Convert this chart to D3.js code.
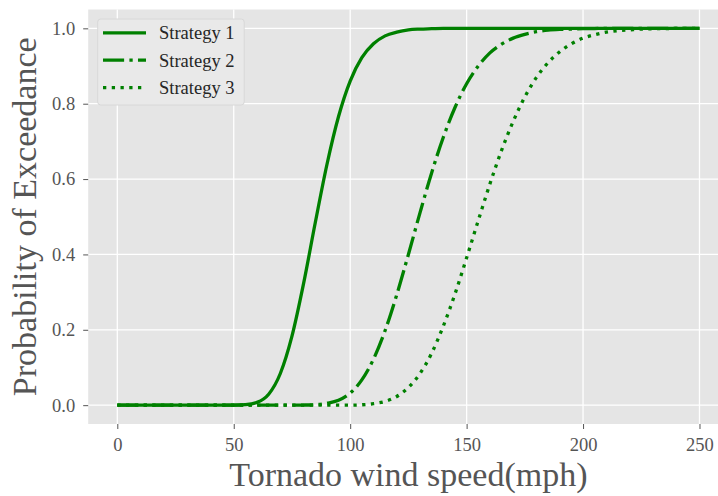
<!DOCTYPE html>
<html>
<head>
<meta charset="utf-8">
<script src="https://cdn.jsdelivr.net/npm/d3@7"></script>
<style>
  body { margin: 0; background: #fff; }
  svg { display: block; font-family: "Liberation Serif", "Times New Roman", serif; }
</style>
</head>
<body>
<script>
// wind speed samples (mph)
const windSpeed = d3.range(0, 251, 5);

// probability of exceedance
const strategy1 = [
  0, 0, 0, 0, 0, 0, 0, 0, 0, 0,
  0.0001, 0.0012, 0.0073, 0.029, 0.084, 0.183, 0.323, 0.484, 0.638, 0.766,
  0.860, 0.922, 0.959, 0.980, 0.990, 0.996, 0.998, 0.999, 1, 1,
  1, 1, 1, 1, 1, 1, 1, 1, 1, 1,
  1, 1, 1, 1, 1, 1, 1, 1, 1, 1,
  1
];
const strategy2 = [
  0, 0, 0, 0, 0, 0, 0, 0, 0, 0,
  0, 0, 0, 0, 0, 0, 0.0003, 0.0013, 0.005, 0.013,
  0.032, 0.067, 0.122, 0.198, 0.293, 0.400, 0.511, 0.617, 0.711, 0.790,
  0.853, 0.900, 0.935, 0.958, 0.974, 0.984, 0.991, 0.995, 0.997, 0.998,
  0.999, 0.9995, 1, 1, 1, 1, 1, 1, 1, 1,
  1
];
const strategy3 = [
  0, 0, 0, 0, 0, 0, 0, 0, 0, 0,
  0, 0, 0, 0, 0, 0, 0, 0, 0, 0,
  0, 0.001, 0.004, 0.010, 0.023, 0.047, 0.084, 0.138, 0.210, 0.295,
  0.391, 0.490, 0.587, 0.676, 0.753, 0.818, 0.870, 0.909, 0.938, 0.959,
  0.974, 0.983, 0.990, 0.994, 0.996, 0.998, 0.999, 0.999, 1, 1,
  1
];

const seriesNames = ["Strategy 1", "Strategy 2", "Strategy 3"];
const xTicks = [0, 50, 100, 150, 200, 250];
const yTicks = [0, 0.2, 0.4, 0.6, 0.8, 1.0];

const width = 718;
const height = 496;
const green = "#008000";
const lw = 3.3;

// matplotlib-like dash patterns scaled by line width
const dashes = [
  null,
  [6.4, 1.6, 1, 1.6].map((d) => d * lw).join(","),
  [1, 1.65].map((d) => d * lw).join(","),
];

const svg = d3
  .select("body")
  .append("svg")
  .attr("width", width)
  .attr("height", height);

const x = d3.scaleLinear().domain([-12.5, 262.5]).range([88.2, 728.6]);
const y = d3.scaleLinear().domain([-0.05, 1.05]).range([424, 9.5]);

// plot background
svg
  .append("rect")
  .attr("x", x.range()[0])
  .attr("y", y.range()[1])
  .attr("width", x.range()[1] - x.range()[0])
  .attr("height", y.range()[0] - y.range()[1])
  .attr("fill", "#e5e5e5");

// grid
const grid = svg.append("g").attr("stroke", "#fff").attr("stroke-width", 1.3);
grid
  .selectAll(".vx")
  .data(xTicks)
  .join("line")
  .attr("x1", (d) => x(d))
  .attr("x2", (d) => x(d))
  .attr("y1", y.range()[0])
  .attr("y2", y.range()[1]);
grid
  .selectAll(".hy")
  .data(yTicks)
  .join("line")
  .attr("y1", (d) => y(d))
  .attr("y2", (d) => y(d))
  .attr("x1", x.range()[0])
  .attr("x2", x.range()[1]);

// axes
const xAxis = svg
  .append("g")
  .attr("transform", `translate(0,${y.range()[0]})`)
  .call(
    d3.axisBottom(x).tickValues(xTicks).tickSize(5).tickPadding(9).tickFormat(d3.format("d"))
  );
const yAxis = svg
  .append("g")
  .attr("transform", `translate(${x.range()[0]},0)`)
  .call(
    d3.axisLeft(y).tickValues(yTicks).tickSize(5).tickPadding(8).tickFormat(d3.format(".1f"))
  );

[xAxis, yAxis].forEach((g) => {
  g.select(".domain").remove();
  g.selectAll(".tick line").attr("stroke", "#555").attr("stroke-width", 1);
  g.selectAll(".tick text")
    .attr("fill", "#555")
    .style("font-size", "18.5px")
    .style("font-family", "Liberation Serif, serif");
});

// axis labels
svg
  .append("text")
  .attr("x", (x.range()[0] + x.range()[1]) / 2)
  .attr("y", 486)
  .attr("text-anchor", "middle")
  .attr("fill", "#555")
  .style("font-size", "34px")
  .text("Tornado wind speed(mph)");

svg
  .append("text")
  .attr("transform", `translate(36,${(y.range()[0] + y.range()[1]) / 2}) rotate(-90)`)
  .attr("text-anchor", "middle")
  .attr("fill", "#555")
  .style("font-size", "34px")
  .text("Probability of Exceedance");

// curves
const series = [strategy1, strategy2, strategy3];
const line = d3
  .line()
  .x((d, i) => x(windSpeed[i]))
  .y((d) => y(d))
  .curve(d3.curveMonotoneX);

svg
  .append("g")
  .selectAll("path")
  .data(series)
  .join("path")
  .attr("d", (d) => line(d))
  .attr("fill", "none")
  .attr("stroke", green)
  .attr("stroke-width", lw)
  .attr("stroke-dasharray", (d, i) => dashes[i]);

// legend
const legend = svg.append("g");
legend
  .append("rect")
  .attr("x", 97.7)
  .attr("y", 19)
  .attr("width", 146.5)
  .attr("height", 86)
  .attr("rx", 3)
  .attr("fill", "#e9e9e9")
  .attr("stroke", "#d8d8d8")
  .attr("stroke-width", 1);

const rows = legend
  .selectAll(".row")
  .data(seriesNames)
  .join("g")
  .attr("transform", (d, i) => `translate(0,${32.8 + i * 27.4})`);

rows
  .append("line")
  .attr("x1", 103)
  .attr("x2", 146)
  .attr("stroke", green)
  .attr("stroke-width", lw)
  .attr("stroke-dasharray", (d, i) => dashes[i]);

rows
  .append("text")
  .attr("x", 159)
  .attr("y", 6.5)
  .attr("fill", "#262626")
  .style("font-size", "18.5px")
  .text((d) => d);
</script>
</body>
</html>
